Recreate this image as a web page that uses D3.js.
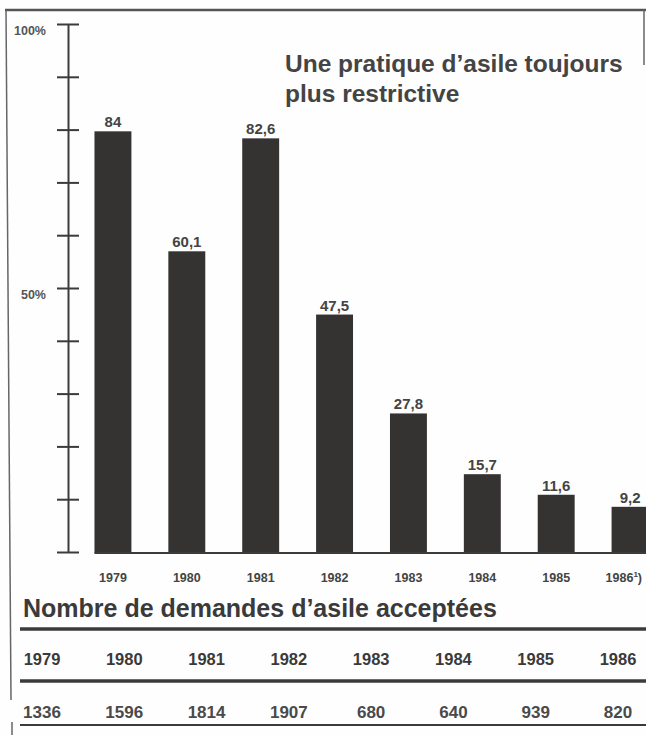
<!DOCTYPE html>
<html>
<head>
  <meta charset="utf-8">
  <title>Une pratique d'asile toujours plus restrictive</title>
  <script src="https://cdn.jsdelivr.net/npm/d3@7/dist/d3.min.js"></script>
  <style>
    body { margin: 0; background: #fff; }
    svg { display: block; font-family: "Liberation Sans", Arial, sans-serif; }
  </style>
</head>
<body>
<svg id="chart"></svg>
<script>
  // data
  var years = ["1979", "1980", "1981", "1982", "1983", "1984", "1985", "1986"];
  var acceptRates = [84, 60.1, 82.6, 47.5, 27.8, 15.7, 11.6, 9.2];
  var acceptedCounts = [1336, 1596, 1814, 1907, 680, 640, 939, 820];
  var axisTicks = [0, 10, 20, 30, 40, 50, 60, 70, 80, 90, 100];
  var axisLabels = {50: "50%", 100: "100%"};

  var width = 646, height = 735;
  var ink = "#3d3a3a";

  var svg = d3.select("#chart")
    .attr("width", width)
    .attr("height", height);

  svg.append("rect").attr("width", width).attr("height", height).attr("fill", "#fefefe");

  // frame (scanned page, a bit slanted on the left)
  svg.append("line").attr("x1", 5).attr("y1", 10).attr("x2", 646).attr("y2", 10)
    .attr("stroke", "#555").attr("stroke-width", 2.5);
  svg.append("line").attr("x1", 6).attr("y1", 10).attr("x2", 11).attr("y2", 700)
    .attr("stroke", "#666").attr("stroke-width", 1.5);
  svg.append("line").attr("x1", 12).attr("y1", 722).attr("x2", 12).attr("y2", 735)
    .attr("stroke", "#666").attr("stroke-width", 1.5);
  svg.append("line").attr("x1", 644).attr("y1", 10).attr("x2", 644).attr("y2", 65)
    .attr("stroke", "#666").attr("stroke-width", 1.5);

  var x = d3.scaleBand()
    .domain(years)
    .range([76, 667])
    .paddingInner(0.5)
    .paddingOuter(0.25);

  // the axis and the bars of the original do not share the same scale
  var yAxis = d3.scaleLinear().domain([0, 100]).range([552, 24]);
  var yBar = d3.scaleLinear().domain([0, 100]).range([553, 51]);

  // vertical axis, ticks crossing the line
  var axis = svg.append("g")
    .attr("transform", "translate(68,0)")
    .call(d3.axisLeft(yAxis).tickValues(axisTicks).tickSizeOuter(0).tickFormat(""));
  axis.select(".domain").attr("stroke", ink).attr("stroke-width", 2);
  axis.selectAll(".tick line")
    .attr("x1", -11).attr("x2", 11)
    .attr("stroke", ink).attr("stroke-width", 2);

  svg.append("g").selectAll("text")
    .data(axisTicks.filter(function(d) { return axisLabels[d]; }))
    .join("text")
    .attr("x", 46)
    .attr("y", function(d) { return yAxis(d) + 11; })
    .attr("text-anchor", "end")
    .attr("font-size", 12.5)
    .attr("font-weight", "bold")
    .attr("fill", "#555")
    .text(function(d) { return axisLabels[d]; });

  // bars
  svg.append("g").selectAll("rect")
    .data(acceptRates)
    .join("rect")
    .attr("x", function(d, i) { return x(years[i]); })
    .attr("y", function(d) { return yBar(d); })
    .attr("width", x.bandwidth())
    .attr("height", function(d) { return yBar(0) - yBar(d); })
    .attr("fill", "#353232");

  // baseline
  svg.append("line")
    .attr("x1", x(years[0])).attr("x2", width)
    .attr("y1", yBar(0)).attr("y2", yBar(0))
    .attr("stroke", ink).attr("stroke-width", 2);

  // value labels
  svg.append("g").selectAll("text")
    .data(acceptRates)
    .join("text")
    .attr("x", function(d, i) { return x(years[i]) + x.bandwidth() / 2; })
    .attr("y", function(d) { return yBar(d) - 4; })
    .attr("text-anchor", "middle")
    .attr("font-size", 15)
    .attr("font-weight", "bold")
    .attr("fill", "#444")
    .text(function(d) { return String(d).replace(".", ","); });

  // year labels under the bars; the last one carries a footnote mark
  var last = years[years.length - 1];
  var yl = svg.append("g").selectAll("text")
    .data(years)
    .join("text")
    .attr("x", function(d) { return d === last ? width - 4 : x(d) + x.bandwidth() / 2; })
    .attr("y", 582)
    .attr("text-anchor", function(d) { return d === last ? "end" : "middle"; })
    .attr("font-size", 12.5)
    .attr("font-weight", "bold")
    .attr("fill", "#444")
    .text(function(d) { return d; });
  var note = yl.filter(function(d) { return d === last; });
  note.append("tspan").attr("font-size", 8).attr("dy", -5).text("1");
  note.append("tspan").attr("dy", 5).text(")");

  // title
  var title = svg.append("text")
    .attr("font-size", 24.5)
    .attr("font-weight", "bold")
    .attr("fill", "#444");
  title.append("tspan").attr("x", 285).attr("y", 72).text("Une pratique d\u2019asile toujours");
  title.append("tspan").attr("x", 285).attr("y", 102).text("plus restrictive");

  // table
  svg.append("text")
    .attr("x", 23).attr("y", 617)
    .attr("font-size", 25)
    .attr("font-weight", "bold")
    .attr("fill", "#3a3a3a")
    .text("Nombre de demandes d\u2019asile accept\u00e9es");

  var col = d3.scalePoint().domain(years).range([42, 618]);

  [629, 681].forEach(function(yy) {
    svg.append("line").attr("x1", 20).attr("x2", width).attr("y1", yy).attr("y2", yy)
      .attr("stroke", ink).attr("stroke-width", 3.5);
  });
  svg.append("line").attr("x1", 20).attr("x2", width).attr("y1", 725).attr("y2", 725)
    .attr("stroke", ink).attr("stroke-width", 2);

  svg.append("g").selectAll("text")
    .data(years)
    .join("text")
    .attr("x", function(d) { return col(d); })
    .attr("y", 665)
    .attr("text-anchor", "middle")
    .attr("font-size", 16.5)
    .attr("font-weight", "bold")
    .attr("fill", "#3a3a3a")
    .text(function(d) { return d; });

  svg.append("g").selectAll("text")
    .data(acceptedCounts)
    .join("text")
    .attr("x", function(d, i) { return col(years[i]); })
    .attr("y", 718)
    .attr("text-anchor", "middle")
    .attr("font-size", 17)
    .attr("font-weight", "bold")
    .attr("fill", "#4a4a4a")
    .text(function(d) { return d; });
</script>
</body>
</html>
